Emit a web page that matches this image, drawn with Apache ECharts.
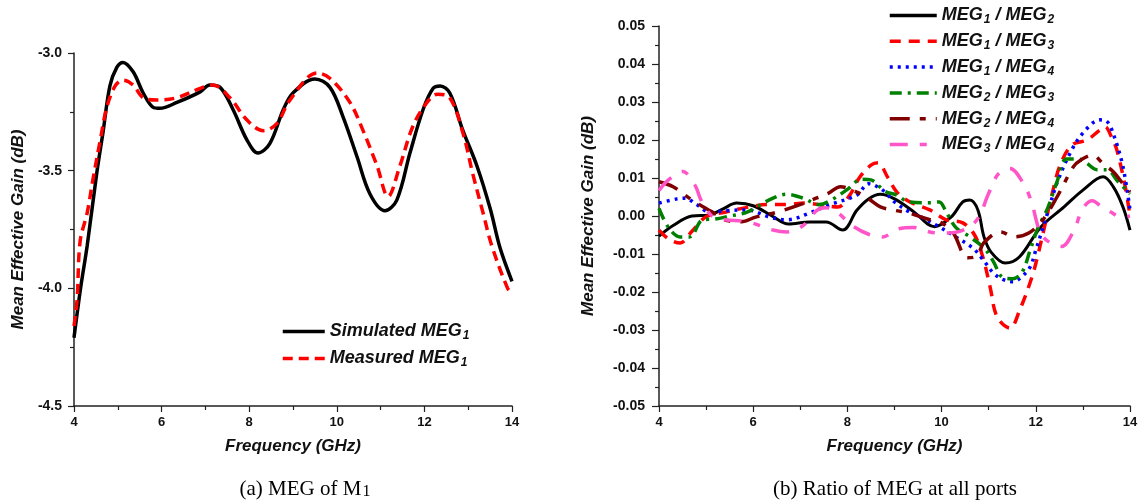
<!DOCTYPE html>
<html>
<head>
<meta charset="utf-8">
<script src="https://cdn.jsdelivr.net/npm/echarts@6/dist/echarts.min.js"></script>
<style>
html,body{margin:0;padding:0;background:#fff;}
#chart{width:1142px;height:503px;}
</style>
</head>
<body>
<div id="chart"></div>
<script>
// ---------- Panel (a): MEG of M1 ----------
const xTicksA = [4, 6, 8, 10, 12, 14];
const yTicksA = [-4.5, -4.0, -3.5, -3.0];
const simFreq = [4.0, 4.15, 4.3, 4.52, 4.66, 4.82, 4.98, 5.12, 5.35, 5.58, 5.8, 5.96, 6.35, 6.88, 7.1, 7.33, 7.63, 7.95, 8.2, 8.47, 8.78, 9.0, 9.5, 9.84, 10.14, 10.46, 10.76, 11.1, 11.37, 11.67, 11.97, 12.2, 12.36, 12.58, 12.88, 13.2, 13.5, 13.73, 14.0];
const simMEG  = [-4.21, -4.0, -3.82, -3.51, -3.34, -3.14, -3.06, -3.04, -3.08, -3.17, -3.23, -3.235, -3.21, -3.165, -3.136, -3.145, -3.24, -3.37, -3.425, -3.385, -3.24, -3.17, -3.11, -3.145, -3.27, -3.44, -3.6, -3.67, -3.625, -3.425, -3.24, -3.15, -3.14, -3.17, -3.33, -3.48, -3.66, -3.83, -3.97];
const measFreq = [4.0, 4.07, 4.14, 4.3, 4.43, 4.6, 4.75, 4.94, 5.12, 5.35, 5.58, 5.9, 6.35, 6.88, 7.17, 7.56, 7.95, 8.32, 8.63, 8.93, 9.55, 9.84, 10.3, 10.6, 10.92, 11.17, 11.44, 11.74, 12.06, 12.3, 12.58, 12.88, 13.1, 13.34, 13.54, 13.9, 14.0];
const measMEG  = [-4.16, -4.05, -3.8, -3.68, -3.54, -3.37, -3.23, -3.14, -3.115, -3.136, -3.19, -3.2, -3.19, -3.15, -3.136, -3.19, -3.285, -3.33, -3.3, -3.2, -3.085, -3.107, -3.21, -3.33, -3.48, -3.61, -3.48, -3.31, -3.21, -3.175, -3.19, -3.34, -3.51, -3.68, -3.82, -4.0, -4.02];

// ---------- Panel (b): Ratio of MEG at all ports ----------
const xTicksB = [4, 6, 8, 10, 12, 14];
const yTicksB = [-0.05, -0.04, -0.03, -0.02, -0.01, 0.00, 0.01, 0.02, 0.03, 0.04, 0.05];
const r12Freq = [4.0, 4.3, 4.7, 5.05, 5.35, 5.65, 6.0, 6.4, 6.75, 7.2, 7.55, 7.9, 8.2, 8.45, 8.7, 9.0, 9.4, 9.85, 10.2, 10.45, 10.6, 10.77, 10.9, 11.05, 11.35, 11.65, 12.1, 12.6, 13.0, 13.43, 13.65, 13.85, 14.0];
const r12 = [-0.0053, -0.0025, 0.0, 0.0002, 0.0018, 0.0034, 0.0027, 0.0, -0.0021, -0.0016, -0.0016, -0.0037, 0.0015, 0.0045, 0.0057, 0.0045, 0.0012, -0.0028, -0.0003, 0.0037, 0.0042, 0.0016, -0.0055, -0.0095, -0.0124, -0.0108, -0.003, 0.0024, 0.0068, 0.0103, 0.0076, 0.0024, -0.0037];
const r13Freq = [4.0, 4.2, 4.45, 4.7, 5.0, 5.4, 5.76, 6.3, 6.7, 7.1, 7.5, 7.8, 8.05, 8.25, 8.5, 8.65, 8.85, 9.05, 9.33, 9.75, 10.1, 10.45, 10.7, 10.88, 11.03, 11.18, 11.45, 11.66, 11.92, 12.05, 12.2, 12.35, 12.52, 12.77, 13.08, 13.36, 13.47, 13.6, 13.72, 13.9, 14.0];
const r13 = [-0.0037, -0.006, -0.0071, -0.004, -0.0002, 0.001, 0.002, 0.003, 0.003, 0.0034, 0.0028, 0.0024, 0.0055, 0.01, 0.0134, 0.014, 0.0103, 0.0063, 0.0037, 0.0016, -0.001, -0.0018, -0.005, -0.011, -0.0187, -0.0266, -0.0295, -0.0247, -0.016, -0.01, -0.002, 0.006, 0.0135, 0.0187, 0.02, 0.0226, 0.0235, 0.021, 0.0174, 0.0076, 0.0];
const r14Freq = [4.0, 4.38, 4.55, 4.8, 5.08, 5.44, 5.87, 6.35, 6.72, 7.2, 7.63, 8.2, 8.45, 8.75, 9.0, 9.3, 9.6, 9.97, 10.3, 10.67, 10.88, 11.1, 11.3, 11.52, 11.7, 11.88, 12.0, 12.27, 12.45, 12.73, 13.0, 13.36, 13.5, 13.64, 13.85, 14.0];
const r14 = [0.0034, 0.0045, 0.0047, 0.003, 0.001, 0.0014, 0.0016, -0.0003, -0.001, 0.0008, 0.003, 0.0055, 0.0085, 0.0068, 0.0037, 0.0012, -0.0005, -0.003, -0.0055, -0.0085, -0.0115, -0.015, -0.0167, -0.0173, -0.016, -0.0134, -0.009, 0.0016, 0.0087, 0.0166, 0.0218, 0.0253, 0.025, 0.0218, 0.013, 0.0016];
const r23Freq = [4.0, 4.2, 4.45, 4.65, 4.93, 5.2, 5.5, 5.87, 6.3, 6.7, 7.06, 7.4, 7.63, 8.0, 8.3, 8.5, 8.8, 9.05, 9.3, 9.75, 9.95, 10.1, 10.3, 10.6, 10.9, 11.1, 11.28, 11.5, 11.7, 11.88, 12.05, 12.25, 12.45, 12.65, 12.9, 13.05, 13.3, 13.5, 13.75, 14.0];
const r23 = [0.002, -0.003, -0.0055, -0.0055, -0.001, -0.0008, 0.0, 0.001, 0.004, 0.0057, 0.0047, 0.003, 0.004, 0.007, 0.0097, 0.0095, 0.0065, 0.0055, 0.0037, 0.0035, 0.0037, 0.001, -0.003, -0.0055, -0.0084, -0.012, -0.016, -0.0165, -0.015, -0.009, -0.003, 0.002, 0.009, 0.015, 0.015, 0.0142, 0.0122, 0.0122, 0.009, 0.0058];
const r24Freq = [4.0, 4.3, 4.55, 4.8, 5.0, 5.2, 5.45, 5.75, 6.05, 6.5, 6.95, 7.3, 7.6, 7.85, 8.2, 8.45, 8.7, 9.0, 9.3, 9.7, 10.0, 10.25, 10.55, 10.75, 10.9, 11.25, 11.55, 11.85, 12.15, 12.45, 12.8, 12.95, 13.2, 13.45, 13.65, 13.85, 14.0];
const r24 = [0.009, 0.0077, 0.0055, 0.0034, 0.002, 0.0005, -0.0012, -0.0015, -0.0003, 0.001, 0.0028, 0.0045, 0.006, 0.0077, 0.0063, 0.0045, 0.0024, 0.0015, 0.0008, -0.0008, -0.0018, -0.0045, -0.011, -0.0105, -0.007, -0.0042, -0.0055, -0.0045, -0.001, 0.005, 0.013, 0.0147, 0.016, 0.0135, 0.0116, 0.0085, 0.0063];
const r34Freq = [4.0, 4.2, 4.5, 4.76, 4.9, 5.15, 5.4, 5.87, 6.42, 6.72, 7.06, 7.35, 7.55, 7.8, 8.1, 8.45, 8.75, 9.05, 9.4, 9.75, 10.03, 10.4, 10.75, 11.0, 11.2, 11.45, 11.73, 11.9, 12.1, 12.3, 12.55, 12.8, 13.0, 13.2, 13.4, 13.6, 13.8, 14.0];
const r34 = [0.0067, 0.0095, 0.0117, 0.0082, 0.004, -0.0003, -0.001, -0.0015, -0.0037, -0.0042, -0.0025, 0.0015, 0.0022, 0.0008, -0.0025, -0.0048, -0.0055, -0.0035, -0.003, -0.0042, -0.0045, -0.004, -0.001, 0.006, 0.011, 0.0125, 0.0087, 0.004, -0.0045, -0.007, -0.008, -0.004, 0.002, 0.004, 0.0024, 0.001, -0.0003, 0.0];

const names = {
  sim: 'Simulated MEG1', meas: 'Measured MEG1',
  r12: 'MEG1 / MEG2', r13: 'MEG1 / MEG3', r14: 'MEG1 / MEG4',
  r23: 'MEG2 / MEG3', r24: 'MEG2 / MEG4', r34: 'MEG3 / MEG4'
};

function pairs(xs, ys) { return xs.map((x, i) => [x, ys[i]]); }

const FONT = 'Liberation Sans, Arial, sans-serif';
const SERIF = 'Liberation Serif, Times New Roman, serif';

function subFmt(name) {
  return name.replace(/MEG(\d)/g, (m, d) => '{n|MEG}{s|' + d + '}').replace(/^([^{]+)/, '{n|$1}').replace(/\}( \/ )\{/g, '}{n|$1}{');
}

const legendRich = {
  n: { fontSize: 18, fontWeight: 'bold', fontStyle: 'italic', fontFamily: FONT, color: '#111', lineHeight: 22 },
  s: { fontSize: 12, fontWeight: 'bold', fontStyle: 'italic', fontFamily: FONT, color: '#111', padding: [9, 0, 0, 1], lineHeight: 22 }
};

function xAxisCfg(gridIndex) {
  return {
    type: 'value', gridIndex, min: 4, max: 14, interval: 2,
    name: 'Frequency (GHz)', nameLocation: 'middle', nameGap: 32,
    nameTextStyle: { fontSize: 17, fontWeight: 'bold', fontStyle: 'italic', fontFamily: FONT, color: '#111' },
    axisLine: { show: true, onZero: false, lineStyle: { color: '#222', width: 1.5 } },
    axisTick: { show: true, inside: false, length: 6, lineStyle: { color: '#222', width: 1.2 } },
    minorTick: { show: true, splitNumber: 2, length: 4, lineStyle: { color: '#222', width: 1.2 } },
    splitLine: { show: false },
    axisLabel: { margin: 10, fontSize: 13, fontWeight: 'bold', fontFamily: FONT, color: '#111' }
  };
}

const option = {
  backgroundColor: '#fff',
  animation: false,
  grid: [
    { left: 74, top: 53, width: 438, height: 353 },
    { left: 659, top: 26, width: 471, height: 380 }
  ],
  xAxis: [xAxisCfg(0), xAxisCfg(1)],
  yAxis: [
    {
      type: 'value', gridIndex: 0, min: yTicksA[0], max: yTicksA[yTicksA.length - 1], interval: 0.5,
      name: 'Mean Effective Gain (dB)', nameLocation: 'middle', nameGap: 47,
      nameTextStyle: { fontSize: 17, fontWeight: 'bold', fontStyle: 'italic', fontFamily: FONT, color: '#111' },
      axisLine: { show: true, onZero: false, lineStyle: { color: '#222', width: 1.5 } },
      axisTick: { show: true, length: 6, lineStyle: { color: '#222', width: 1.2 } },
      minorTick: { show: true, splitNumber: 2, length: 4, lineStyle: { color: '#222', width: 1.2 } },
      splitLine: { show: false },
      axisLabel: { margin: 12, fontSize: 14, fontWeight: 'bold', fontFamily: FONT, color: '#111',
        formatter: v => v.toFixed(1) }
    },
    {
      type: 'value', gridIndex: 1, min: yTicksB[0], max: yTicksB[yTicksB.length - 1], interval: 0.01,
      name: 'Mean Effective Gain (dB)', nameLocation: 'middle', nameGap: 62,
      nameTextStyle: { fontSize: 17, fontWeight: 'bold', fontStyle: 'italic', fontFamily: FONT, color: '#111' },
      axisLine: { show: true, onZero: false, lineStyle: { color: '#222', width: 1.5 } },
      axisTick: { show: true, length: 7, lineStyle: { color: '#222', width: 1.2 } },
      minorTick: { show: true, splitNumber: 2, length: 4, lineStyle: { color: '#222', width: 1.2 } },
      splitLine: { show: false },
      axisLabel: { margin: 14, fontSize: 14, fontWeight: 'bold', fontFamily: FONT, color: '#111',
        formatter: v => (Math.abs(v) < 1e-9 ? 0 : v).toFixed(2) }
    }
  ],
  legend: [
    {
      data: [names.sim, names.meas], orient: 'vertical', left: 276, top: 316,
      itemWidth: 42, itemHeight: 14, itemGap: 6,
      itemStyle: { opacity: 0 },
      lineStyle: { width: 3.5 },
      formatter: n => subFmt(n),
      textStyle: { rich: legendRich }
    },
    {
      data: [names.r12, names.r13, names.r14, names.r23, names.r24, names.r34],
      orient: 'vertical', left: 883, top: 0,
      itemWidth: 47, itemHeight: 14, itemGap: 4.8,
      itemStyle: { opacity: 0 },
      lineStyle: { width: 3.5 },
      formatter: n => subFmt(n),
      textStyle: { rich: legendRich }
    }
  ],
  graphic: [
    { type: 'text', x: 305, y: 489, style: {
        text: '{c|(a) MEG of M}{s|1}', align: 'center', verticalAlign: 'middle',
        rich: {
          c: { fontSize: 21, fontFamily: SERIF, fill: '#000', lineHeight: 24 },
          s: { fontSize: 16, fontFamily: SERIF, fill: '#000', padding: [6, 0, 0, 1], lineHeight: 24 }
        } } },
    { type: 'text', x: 895, y: 489, style: {
        text: '(b) Ratio of MEG at all ports', align: 'center', verticalAlign: 'middle',
        fontSize: 21, fontFamily: SERIF, fill: '#000' } }
  ],
  series: [
    { name: names.sim, type: 'line', xAxisIndex: 0, yAxisIndex: 0, data: pairs(simFreq, simMEG),
      smooth: 0.35, symbol: 'none', lineStyle: { color: '#000', width: 3.5 }, itemStyle: { color: '#000' } },
    { name: names.meas, type: 'line', xAxisIndex: 0, yAxisIndex: 0, data: pairs(measFreq, measMEG),
      smooth: 0.35, symbol: 'none', lineStyle: { color: '#ff0000', width: 3.5, type: [10, 6] }, itemStyle: { color: '#ff0000' } },

    { name: names.r12, type: 'line', xAxisIndex: 1, yAxisIndex: 1, data: pairs(r12Freq, r12),
      smooth: 0.35, symbol: 'none', lineStyle: { color: '#000', width: 3 }, itemStyle: { color: '#000' } },
    { name: names.r13, type: 'line', xAxisIndex: 1, yAxisIndex: 1, data: pairs(r13Freq, r13),
      smooth: 0.35, symbol: 'none', lineStyle: { color: '#ff0000', width: 3.5, type: [11, 8] }, itemStyle: { color: '#ff0000' } },
    { name: names.r14, type: 'line', xAxisIndex: 1, yAxisIndex: 1, data: pairs(r14Freq, r14),
      smooth: 0.35, symbol: 'none', lineStyle: { color: '#0000ff', width: 3.5, type: [3, 5] }, itemStyle: { color: '#0000ff' } },
    { name: names.r23, type: 'line', xAxisIndex: 1, yAxisIndex: 1, data: pairs(r23Freq, r23),
      smooth: 0.35, symbol: 'none', lineStyle: { color: '#008000', width: 3.5, type: [12, 6, 3, 6] }, itemStyle: { color: '#008000' } },
    { name: names.r24, type: 'line', xAxisIndex: 1, yAxisIndex: 1, data: pairs(r24Freq, r24),
      smooth: 0.35, symbol: 'none', lineStyle: { color: '#800000', width: 3.5, type: [20, 10, 6, 10] }, itemStyle: { color: '#800000' } },
    { name: names.r34, type: 'line', xAxisIndex: 1, yAxisIndex: 1, data: pairs(r34Freq, r34),
      smooth: 0.35, symbol: 'none', lineStyle: { color: '#ff55c8', width: 3.5, type: [18, 12, 7, 12] }, itemStyle: { color: '#ff55c8' } }
  ]
};

const chart = echarts.init(document.getElementById('chart'), null, { renderer: 'canvas' });
chart.setOption(option);
</script>
</body>
</html>
